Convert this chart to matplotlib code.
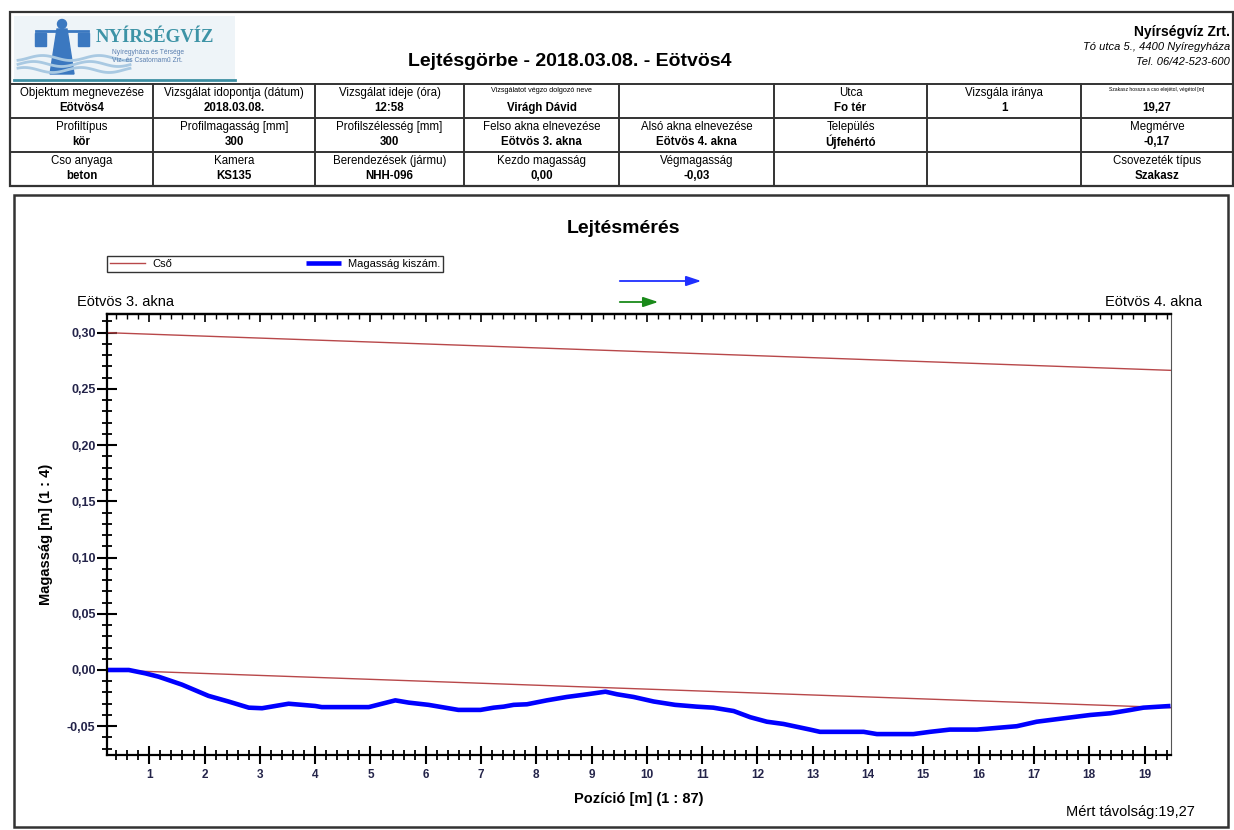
"""Lejtésgörbe (slope curve) report page for Eötvös4, redrawn with matplotlib."""
import numpy as np
import matplotlib
matplotlib.use("Agg")
import matplotlib.pyplot as plt
from matplotlib.patches import Rectangle, Polygon, Circle
from matplotlib.ticker import MultipleLocator, FuncFormatter

plt.rcParams["font.family"] = ["Liberation Sans", "DejaVu Sans"]

# measured profile (position [m], height [m])
pos_m = [0.23, 0.63, 0.93, 1.17, 1.59, 2.07, 2.43, 2.80, 3.04, 3.28,
         3.52, 3.76, 4.00, 4.12, 4.97, 5.21, 5.45, 5.69, 6.05, 6.41,
         6.59, 6.99, 7.23, 7.41, 7.59, 7.83, 8.19, 8.55, 8.92, 9.25,
         9.46, 9.76, 10.12, 10.51, 10.90, 11.20, 11.57, 11.87, 12.17, 12.47,
         12.95, 13.13, 13.50, 13.92, 14.16, 14.82, 15.12, 15.48, 15.97, 16.21,
         16.69, 17.05, 17.53, 18.02, 18.38, 18.74, 18.98, 19.47]
height_m = [0.000, 0.000, -0.003, -0.006, -0.013, -0.023, -0.028, -0.0335, -0.034, -0.032,
            -0.030, -0.031, -0.032, -0.033, -0.033, -0.030, -0.027, -0.029, -0.031, -0.034,
            -0.0355, -0.0355, -0.0335, -0.0326, -0.031, -0.0305, -0.027, -0.024, -0.0216, -0.0193,
            -0.0216, -0.024, -0.028, -0.031, -0.0326, -0.0335, -0.0365, -0.042, -0.046, -0.048,
            -0.053, -0.055, -0.055, -0.055, -0.057, -0.057, -0.055, -0.053, -0.053, -0.052,
            -0.050, -0.046, -0.043, -0.040, -0.0385, -0.0356, -0.0335, -0.032]

# pipe (Cső): invert line at both ends, pipe diameter
pipe_x = [0.23, 19.47]
pipe_bottom = [0.0, -0.0335]
pipe_diam = 0.30

# header table: (label, value) per cell, 3 rows x 8 columns
table_rows = [
    [("Objektum megnevezése", "Eötvös4"), ("Vizsgálat idopontja (dátum)", "2018.03.08."),
     ("Vizsgálat ideje (óra)", "12:58"), ("Vizsgálatot végzo dolgozó neve", "Virágh Dávid"),
     ("", ""), ("Utca", "Fo tér"), ("Vizsgála iránya", "1"),
     ("Szakasz hossza a cso elejétol, végétol [m]", "19,27")],
    [("Profiltípus", "kör"), ("Profilmagasság [mm]", "300"), ("Profilszélesség [mm]", "300"),
     ("Felso akna elnevezése", "Eötvös 3. akna"), ("Alsó akna elnevezése", "Eötvös 4. akna"),
     ("Település", "Újfehértó"), ("", ""), ("Megmérve", "-0,17")],
    [("Cso anyaga", "beton"), ("Kamera", "KS135"), ("Berendezések (jármu)", "NHH-096"),
     ("Kezdo magasság", "0,00"), ("Végmagasság", "-0,03"), ("", ""), ("", ""),
     ("Csovezeték típus", "Szakasz")],
]
tiny_labels = {"Vizsgálatot végzo dolgozó neve": 5.2,
               "Szakasz hossza a cso elejétol, végétol [m]": 3.6}

W, H = 1234, 830
fig = plt.figure(figsize=(W / 100, H / 100), dpi=100)

# page layer in pixel coordinates
bg = fig.add_axes([0, 0, 1, 1], zorder=0)
bg.set_xlim(0, W); bg.set_ylim(H, 0); bg.axis("off")

frame = "#333333"
bg.add_patch(Rectangle((10, 12), 1223, 174, fill=False, ec=frame, lw=1.6))
bg.plot([10, 1233], [84, 84], color=frame, lw=1.4)
for yy in (118, 152):
    bg.plot([10, 1233], [yy, yy], color=frame, lw=1.4)
col_x = [10, 153, 315, 464, 619, 774, 927, 1081, 1233]
for xx in col_x[1:-1]:
    bg.plot([xx, xx], [84, 186], color=frame, lw=1.4)
row_y = [84, 118, 152, 186]
for r, row in enumerate(table_rows):
    for c, (lab, val) in enumerate(row):
        cx = (col_x[c] + col_x[c + 1]) / 2
        if lab in tiny_labels:
            bg.text(cx, row_y[r] + 6, lab, fontsize=tiny_labels[lab], ha="center", va="center")
        elif lab:
            bg.text(cx, row_y[r] + 9, lab, fontsize=8.3, ha="center", va="center")
        if val:
            bg.text(cx, row_y[r] + 24, val, fontsize=8.3, fontweight="bold", ha="center", va="center")

# chart panel frame
bg.add_patch(Rectangle((14, 195), 1214, 632, fill=False, ec=frame, lw=1.8))

# logo (simplified)
bg.add_patch(Rectangle((14, 16), 221, 64, fc="#eef4f8", ec="none"))
bg.plot([14, 235], [80, 80], color="#3d8fa3", lw=2)
for k, yy in enumerate((58, 64, 70)):
    xs = np.linspace(18, 130, 60)
    bg.plot(xs, yy + 2.5 * np.sin(xs / 9 + k), color="#a9c9e2", lw=2)
bg.add_patch(Circle((62, 24), 4.5, color="#3b78c0"))
bg.add_patch(Polygon([(57, 29), (67, 29), (74, 74), (50, 74)], color="#3b78c0"))
bg.plot([36, 88], [31, 31], color="#3b78c0", lw=2)
bg.add_patch(Rectangle((35, 33), 11, 13, color="#3b78c0"))
bg.add_patch(Rectangle((78, 33), 11, 13, color="#3b78c0"))
bg.text(96, 37, "NYÍRSÉGVÍZ", fontsize=13.5, fontweight="bold", color="#3d93a6",
        family=["Liberation Serif", "DejaVu Serif"], va="center")
bg.text(112, 53, "Nyíregyháza és Térsége", fontsize=4.8, color="#5a7fb0", va="center")
bg.text(112, 61, "Víz- és Csatornamű Zrt.", fontsize=4.8, color="#5a7fb0", va="center")

bg.text(570, 62, "Lejtésgörbe - 2018.03.08. - Eötvös4", fontsize=14, fontweight="bold",
        ha="center", va="center")
bg.text(1230, 32, "Nyírségvíz Zrt.", fontsize=10, fontweight="bold", ha="right", va="center")
bg.text(1230, 47, "Tó utca 5., 4400 Nyíregyháza", fontsize=8, style="italic", ha="right", va="center")
bg.text(1230, 62, "Tel. 06/42-523-600", fontsize=8, style="italic", ha="right", va="center")

bg.text(624, 228, "Lejtésmérés", fontsize=14, fontweight="bold", ha="center", va="center")
bg.text(77, 302, "Eötvös 3. akna", fontsize=10.5, ha="left", va="center")
bg.text(1202, 302, "Eötvös 4. akna", fontsize=10.5, ha="right", va="center")
bg.text(1195, 812, "Mért távolság:19,27", fontsize=10.5, ha="right", va="center")

# direction arrows
bg.annotate("", xy=(704, 281), xytext=(617, 281),
            arrowprops=dict(arrowstyle="-|>,head_length=0.9,head_width=0.3", color="#1f2fff", lw=1.3))
bg.annotate("", xy=(661, 302), xytext=(617, 302),
            arrowprops=dict(arrowstyle="-|>,head_length=0.9,head_width=0.3", color="#1a8a1a", lw=1.3))

# main chart
ax = fig.add_axes([106.7 / W, 1 - 755 / H, (1170.5 - 106.7) / W, (755 - 314) / H], zorder=2)
ax.patch.set_alpha(0)
pipe_top = [b + pipe_diam for b in pipe_bottom]
ax.plot(pipe_x, pipe_top, color="#b8484a", lw=1, label="Cső")
ax.plot(pipe_x, pipe_bottom, color="#b8484a", lw=1)
ax.plot(pos_m, height_m, color="#0000ff", lw=3.3, solid_capstyle="butt", label="Magasság kiszám.")
ax.set_xlim(0.23, 19.47)
ax.set_ylim(-0.0756, 0.3166)

ax.xaxis.set_major_locator(MultipleLocator(1))
ax.xaxis.set_minor_locator(MultipleLocator(0.2))
ax.yaxis.set_major_locator(MultipleLocator(0.05))
ax.yaxis.set_minor_locator(MultipleLocator(0.01))
ax.yaxis.set_major_formatter(FuncFormatter(lambda v, _: f"{v:.2f}".replace(".", ",").replace("-0,00", "0,00")))
ax.xaxis.set_major_formatter(FuncFormatter(lambda v, _: f"{v:.0f}"))
lab_col = "#24244a"
ax.tick_params(axis="y", which="major", direction="inout", length=14, width=1.5,
               labelsize=9, labelcolor=lab_col, pad=1)
ax.tick_params(axis="y", which="minor", direction="inout", length=7, width=1.3)
ax.tick_params(axis="x", which="major", direction="inout", length=12.5, width=1.5,
               labelsize=8.5, labelcolor=lab_col, pad=4)
ax.tick_params(axis="x", which="minor", direction="inout", length=7, width=1.3)
for lab in ax.get_xticklabels() + ax.get_yticklabels():
    lab.set_fontweight("bold")
for s in ("left", "bottom"):
    ax.spines[s].set_linewidth(1.6)
ax.spines["top"].set_linewidth(1.6)
ax.spines["right"].set_color("#555555")

top = ax.secondary_xaxis("top")
top.xaxis.set_major_locator(MultipleLocator(1))
top.xaxis.set_minor_locator(MultipleLocator(0.2))
top.tick_params(which="major", direction="in", length=6, width=1.2, labeltop=False)
top.tick_params(which="minor", direction="in", length=3.5, width=1)
top.spines["top"].set_linewidth(1.6)

ax.set_xlabel("Pozíció [m] (1 : 87)", fontsize=10.5, fontweight="bold", labelpad=8)
ax.set_ylabel("Magasság [m] (1 : 4)", fontsize=10.5, fontweight="bold", labelpad=10)

# legend box spans x 107..443, y 256..274 on the page
leg = ax.legend(loc="upper left", bbox_to_anchor=(107 / W, 1 - 274 / H, (443 - 107) / W, 18 / H),
                bbox_transform=fig.transFigure, mode="expand",
                ncol=2, fontsize=8, frameon=True, fancybox=False, edgecolor="black",
                borderpad=0.25, handlelength=3.2, handletextpad=0.6, borderaxespad=0)
leg.get_frame().set_linewidth(1)

fig.savefig("out.png", dpi=100)
